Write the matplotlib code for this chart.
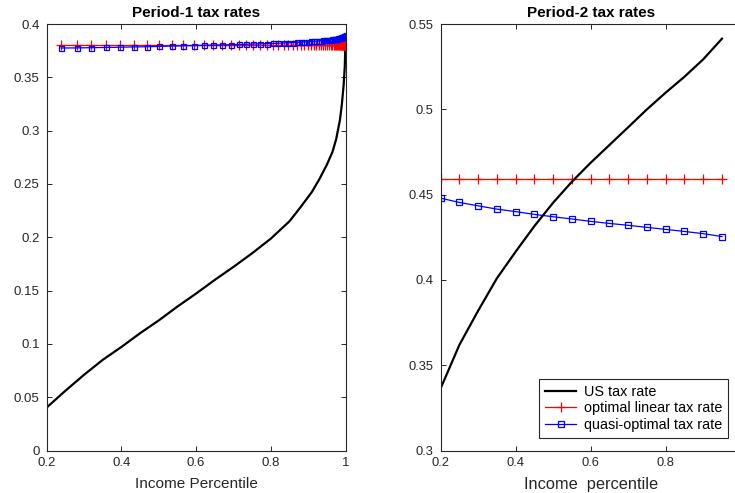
import matplotlib
matplotlib.use("Agg")
import matplotlib.pyplot as plt

plt.rcParams['font.family'] = ['Liberation Sans', 'DejaVu Sans']

# ---- period 1 data ----
p1_us_x = [0.2, 0.25, 0.3, 0.35, 0.4, 0.45, 0.5, 0.55, 0.6, 0.65, 0.7, 0.75,
           0.8, 0.85, 0.88, 0.91, 0.93, 0.95, 0.965, 0.975, 0.985, 0.99,
           0.995, 0.998, 1.0]
p1_us_y = [0.0403, 0.056, 0.071, 0.085, 0.0971, 0.110, 0.122, 0.135, 0.1472,
           0.160, 0.1722, 0.185, 0.1987, 0.215, 0.2284, 0.2425, 0.2545, 0.268,
           0.28, 0.292, 0.31, 0.324, 0.343, 0.36, 0.386]

p1_grid = [0.239, 0.280, 0.319, 0.358, 0.395, 0.433, 0.469, 0.502, 0.535,
           0.565, 0.594, 0.620, 0.646, 0.670, 0.693, 0.714, 0.733, 0.752,
           0.771, 0.789, 0.805, 0.820, 0.834, 0.847, 0.859, 0.870, 0.880,
           0.890, 0.899, 0.907, 0.915, 0.922, 0.929, 0.935, 0.941, 0.946,
           0.951, 0.956, 0.960, 0.964, 0.968, 0.971, 0.974, 0.977, 0.980,
           0.982, 0.984, 0.986, 0.988, 0.990, 0.991, 0.993, 0.994, 0.995,
           0.996, 0.997, 0.998, 0.999, 1.0]
p1_quasi = [0.3775, 0.3776, 0.3778, 0.3780, 0.3782, 0.3785, 0.3787, 0.3790,
            0.3793, 0.3796, 0.3798, 0.3800, 0.3802, 0.3804, 0.3806, 0.3808,
            0.3810, 0.3812, 0.3814, 0.3816, 0.3818, 0.3820, 0.3822, 0.3824,
            0.3826, 0.3828, 0.3830, 0.3832, 0.3834, 0.3836, 0.3838, 0.3840,
            0.3842, 0.3844, 0.3846, 0.3848, 0.3850, 0.3852, 0.3854, 0.3856,
            0.3858, 0.3860, 0.3862, 0.3864, 0.3866, 0.3868, 0.3870, 0.3872,
            0.3874, 0.3876, 0.3878, 0.3880, 0.3882, 0.3884, 0.3886, 0.3888,
            0.3890, 0.3892, 0.3895]
p1_linear = 0.3806

# ---- period 2 data ----
p2_x = [0.2, 0.25, 0.3, 0.35, 0.4, 0.45, 0.5, 0.55, 0.6, 0.65, 0.7, 0.75,
        0.8, 0.85, 0.9, 0.95]
p2_us = [0.3365, 0.362, 0.382, 0.401, 0.4166, 0.4316, 0.4453, 0.4576, 0.4687,
         0.4791, 0.4895, 0.5, 0.5098, 0.5191, 0.5293, 0.5414]
p2_quasi = [0.4479, 0.4454, 0.4434, 0.4415, 0.4400, 0.4384, 0.4370, 0.4357,
            0.4343, 0.4331, 0.4320, 0.4308, 0.4296, 0.4284, 0.4271, 0.4254]
p2_linear = 0.4594

p1_yticks = [0, 0.05, 0.1, 0.15, 0.2, 0.25, 0.3, 0.35, 0.4]
p1_ylabels = ["0", "0.05", "0.1", "0.15", "0.2", "0.25", "0.3", "0.35", "0.4"]
p2_yticks = [0.3, 0.35, 0.4, 0.45, 0.5, 0.55]
p2_ylabels = ["0.3", "0.35", "0.4", "0.45", "0.5", "0.55"]
p1_xticks = [0.2, 0.4, 0.6, 0.8, 1.0]
p1_xlabels = ["0.2", "0.4", "0.6", "0.8", "1"]
p2_xticks = [0.2, 0.4, 0.6, 0.8]
p2_xlabels = ["0.2", "0.4", "0.6", "0.8"]

axcol = "#262626"


def style_axes(ax, fs):
    for s in ax.spines.values():
        s.set_color(axcol)
        s.set_linewidth(0.8)
    ax.tick_params(direction="in", length=3.5, width=0.7, top=True,
                   right=True, colors=axcol, labelsize=fs)
    ax.tick_params(axis="x", pad=4.5)
    ax.tick_params(axis="y", pad=5)


fig = plt.figure(figsize=(7.35, 4.93), dpi=100)

# left panel
ax1 = fig.add_axes([0.0635, 0.0862, 0.4066, 0.8651])
ax1.plot(p1_us_x, p1_us_y, color="k", lw=1.6)
ax1.plot(p1_grid, [p1_linear] * len(p1_grid), color="r", lw=0.9,
         marker="+", ms=6.5, mew=0.9)
ax1.plot(p1_grid, p1_quasi, color="b", lw=0.9, marker="s", ms=3.6,
         mfc="none", mew=0.9)
ax1.set_xlim(0.2, 1.0)
ax1.set_ylim(0, 0.4)
ax1.set_xticks(p1_xticks)
ax1.set_xticklabels(p1_xlabels)
ax1.set_yticks(p1_yticks)
ax1.set_yticklabels(p1_ylabels)
style_axes(ax1, 9.5)
ax1.set_title("Period-1 tax rates", fontsize=11, fontweight="bold", pad=5)
ax1.set_xlabel("Income Percentile", fontsize=11.1, color=axcol, labelpad=6)

# right panel
ax2 = fig.add_axes([0.5996, 0.0862, 0.4082, 0.8651])
ax2.plot(p2_x, [p2_linear] * len(p2_x), color="r", lw=0.9, marker="+",
         ms=6.5, mew=0.9, label="optimal linear tax rate")
ax2.plot(p2_x, p2_quasi, color="b", lw=0.9, marker="s", ms=3.8,
         mfc="none", mew=0.9, label="quasi-optimal tax rate")
ax2.plot(p2_x, p2_us, color="k", lw=1.6, label="US tax rate")
ax2.set_xlim(0.2, 1.0)
ax2.set_ylim(0.3, 0.55)
ax2.set_xticks(p2_xticks)
ax2.set_xticklabels(p2_xlabels)
ax2.set_yticks(p2_yticks)
ax2.set_yticklabels(p2_ylabels)
style_axes(ax2, 9.3)
ax2.set_title("Period-2 tax rates", fontsize=11, fontweight="bold", pad=5)
ax2.set_xlabel("Income  percentile", fontsize=11.8, color=axcol, labelpad=6)

h, l = ax2.get_legend_handles_labels()
order = [2, 0, 1]
leg = ax2.legend([h[i] for i in order], [l[i] for i in order],
                 loc="lower right", bbox_to_anchor=(0.957, 0.029),
                 borderaxespad=0, fontsize=10.4, fancybox=False,
                 edgecolor=axcol, framealpha=1, handlelength=2.2,
                 labelspacing=0.2, borderpad=0.4, handletextpad=0.5)
leg.get_frame().set_linewidth(0.8)

fig.savefig("out.png", dpi=100)
